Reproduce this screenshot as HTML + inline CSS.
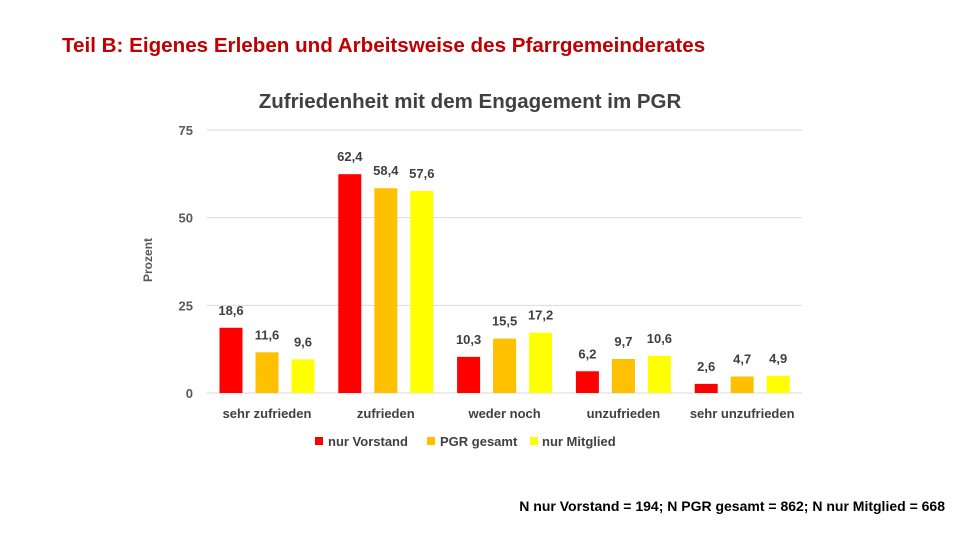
<!DOCTYPE html>
<html><head><meta charset="utf-8"><style>
body{margin:0;width:960px;height:540px;background:#fff;overflow:hidden;font-family:"Liberation Sans",sans-serif}
svg text{font-family:"Liberation Sans",sans-serif;font-weight:bold}
</style></head><body>
<svg width="960" height="540">
<text x="62" y="52" font-size="20.6" fill="#c00000">Teil B: Eigenes Erleben und Arbeitsweise des Pfarrgemeinderates</text>
<text x="470" y="108" font-size="20.5" fill="#404040" text-anchor="middle">Zufriedenheit mit dem Engagement im PGR</text>
<text x="152" y="260" font-size="12" fill="#595959" text-anchor="middle" transform="rotate(-90 152 260)">Prozent</text>
<g id="grid"></g><g id="bars"></g>
<g font-size="13" fill="#404040">
<rect x="315" y="437" width="8" height="8" fill="#ff0000"/>
<text x="328" y="446">nur Vorstand</text>
<rect x="427" y="437" width="8" height="8" fill="#ffc000"/>
<text x="440" y="446">PGR gesamt</text>
<rect x="530" y="437" width="8" height="8" fill="#ffff00"/>
<text x="542" y="446">nur Mitglied</text>
</g>
<text x="945" y="511" font-size="14" fill="#000" text-anchor="end">N nur Vorstand = 194; N PGR gesamt = 862; N nur Mitglied = 668</text>
</svg>
<script>
const categories=["sehr zufrieden","zufrieden","weder noch","unzufrieden","sehr unzufrieden"];
const vorstand=[18.6,62.4,10.3,6.2,2.6];
const pgr=[11.6,58.4,15.5,9.7,4.7];
const mitglied=[9.6,57.6,17.2,10.6,4.9];
const ticks=[0,25,50,75];
const series=[vorstand,pgr,mitglied];
const colors=["#ff0000","#ffc000","#ffff00"];
const NS="http://www.w3.org/2000/svg";
const y=v=>393-v*(263/75);
const gx=i=>267+i*118.8;
function mk(t,a,p){const e=document.createElementNS(NS,t);for(const k in a)e.setAttribute(k,a[k]);p.appendChild(e);return e;}
const grid=document.getElementById('grid'),bars=document.getElementById('bars');
ticks.forEach(t=>{
 const l=mk('line',{x1:207,x2:802,y1:y(t),y2:y(t),stroke:'#d9d9d9','stroke-width':1},grid);
 
 
 const tx=mk('text',{x:193,y:y(t)+5,'font-size':13,fill:'#595959','text-anchor':'end'},grid);
 tx.textContent=t;
 
 
});
categories.forEach((c,i)=>{
 const tx=mk('text',{x:gx(i),y:418,'font-size':13,fill:'#404040','text-anchor':'middle'},bars);
 tx.textContent=c;
 
 
 series.forEach((s,j)=>{
  const cx=gx(i)+(j-1)*36;
  const r=mk('rect',{x:cx-11.5,y:y(s[i]),width:23,height:393-y(s[i]),fill:colors[j]},bars);
  
  
  const lb=mk('text',{x:cx,y:y(s[i])-13,'font-size':13,fill:'#404040','text-anchor':'middle'},bars);
  lb.textContent=String(s[i]).replace('.',',');
  
  
 });
});
</script>
</body></html>
